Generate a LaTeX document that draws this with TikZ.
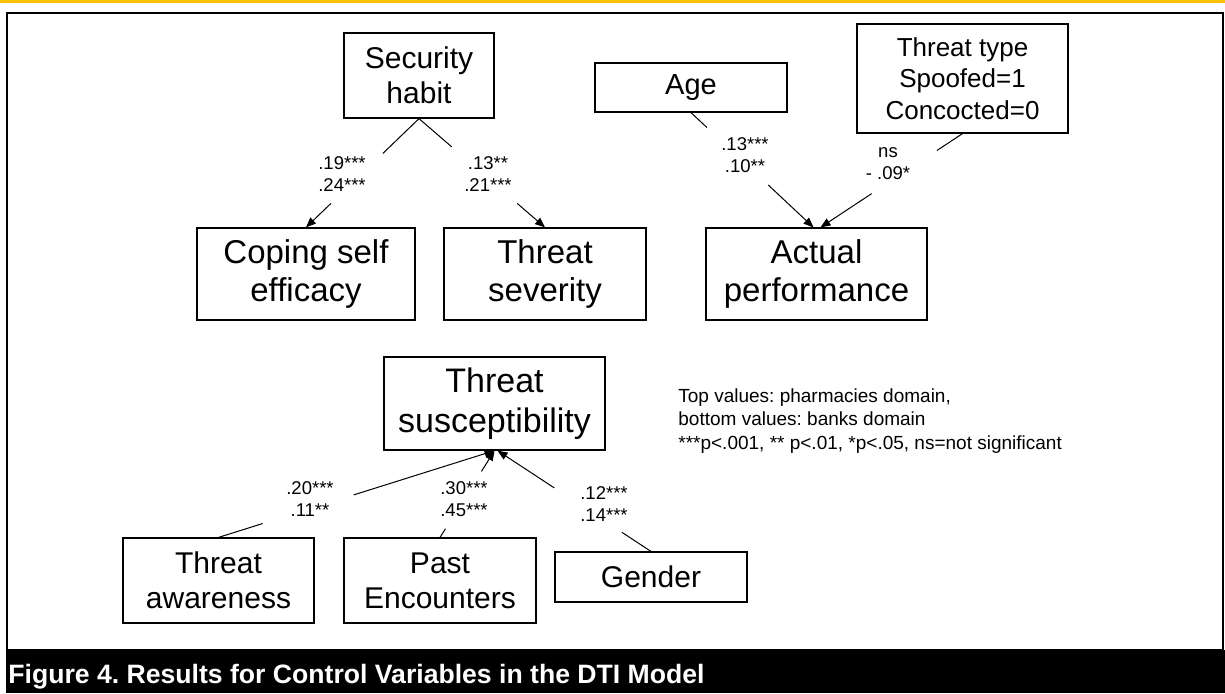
\documentclass[tikz,border=0pt]{standalone}
\usepackage{fontspec}
\setmainfont{Liberation Sans}
\usetikzlibrary{arrows.meta,calc}
\definecolor{bargold}{RGB}{255,194,0}
\frenchspacing
\begin{document}
\begin{tikzpicture}
  [x=0.5pt,y=-0.5pt,every node/.style={inner sep=0pt,align=center},
   box/.style={draw,line width=0.6pt},
   link/.style={line width=0.5pt},
   tip/.style={line width=0.5pt,-{Triangle[length=5pt,width=4pt]}}]
  \tikzstyle{coef} = [font=\fontsize{9.25pt}{11pt}\selectfont]
  \useasboundingbox (0,0) rectangle (1225,693);
  \fill[bargold] (0,0) rectangle (1225,2.5);
  \draw[line width=1pt] (7,13) rectangle (1223,650);
  \fill (6,650) rectangle (1225,693);
  \node[anchor=base west,text=white,font=\bfseries\fontsize{13.3pt}{16pt}\selectfont] (cap) at (8,683) {Figure 4. Results for Control Variables in the DTI Model};

  \node[box,minimum width=75pt,minimum height=42.5pt,font=\fontsize{15pt}{17.5pt}\selectfont] (sh) at (419,75.5) {Security\\habit};
  \node[box,minimum width=96pt,minimum height=24.5pt,font=\fontsize{14.5pt}{17pt}\selectfont] (age) at (691,87.5) {Age};
  \node[box,minimum width=105.5pt,minimum height=54.5pt,font=\fontsize{13pt}{15.75pt}\selectfont] (tt) at (962.5,78.5) {Threat type\\Spoofed=1\\Concocted=0};
  \node[box,minimum width=109pt,minimum height=46pt,font=\fontsize{16.5pt}{19pt}\selectfont] (cse) at (306,274) {Coping self\\efficacy};
  \node[box,minimum width=101pt,minimum height=46pt,font=\fontsize{16.5pt}{19pt}\selectfont] (sev) at (545,274) {Threat\\severity};
  \node[box,minimum width=110.5pt,minimum height=46pt,font=\fontsize{16.5pt}{19pt}\selectfont] (ap) at (816.5,274) {Actual\\performance};
  \node[box,minimum width=110.5pt,minimum height=46.5pt,font=\fontsize{17pt}{20pt}\selectfont] (ts) at (494.5,403.5) {Threat\\susceptibility};
  \node[box,minimum width=95.5pt,minimum height=42.5pt,font=\fontsize{15pt}{17.5pt}\selectfont] (ta) at (218.5,580.5) {Threat\\awareness};
  \node[box,minimum width=96pt,minimum height=42.5pt,font=\fontsize{15pt}{17.5pt}\selectfont] (pe) at (440,580.5) {Past\\Encounters};
  \node[box,minimum width=96pt,minimum height=25pt,font=\fontsize{15pt}{17.5pt}\selectfont] (gen) at (651,577) {Gender};

  \coordinate (ap1) at ([xshift=-1.5pt]ap.north);
  \coordinate (ap2) at ([xshift=2pt]ap.north);
  \coordinate (ts2) at ([xshift=1.5pt]ts.south);

  \foreach \source/\dest/\a/\b in {sh.south/cse.north/.32/.78,sh.south/sev.north/.26/.78,age.south/ap1/.13/.63,tt.south/ap2/.18/.64,ta.north/ts.south/.16/.49,pe.north/ts.south/.10/.76,gen.north/ts2/.19/.63}
  {
    \draw[link] (\source) -- ($(\source)!\a!(\dest)$);
    \draw[tip] ($(\source)!\b!(\dest)$) -- (\dest);
  }

  \node[coef] (c1) at (342,174.5) {.19***\\.24***};
  \node[coef] (c2) at (488,174.5) {.13**\\.21***};
  \node[coef] (c3) at (745,155) {.13***\\.10**};
  \node[coef] (c4) at (888,164) {ns\\- .09*};
  \node[coef] (c5) at (310,499) {.20***\\.11**};
  \node[coef] (c6) at (464,499) {.30***\\.45***};
  \node[coef] (c7) at (604,504) {.12***\\.14***};

  \node[anchor=west,align=left,font=\fontsize{9.5pt}{11.75pt}\selectfont] (key) at (678,421) {Top values: pharmacies domain,\\bottom values: banks domain\\***p<.001, ** p<.01, *p<.05, ns=not significant};
\end{tikzpicture}
\end{document}
